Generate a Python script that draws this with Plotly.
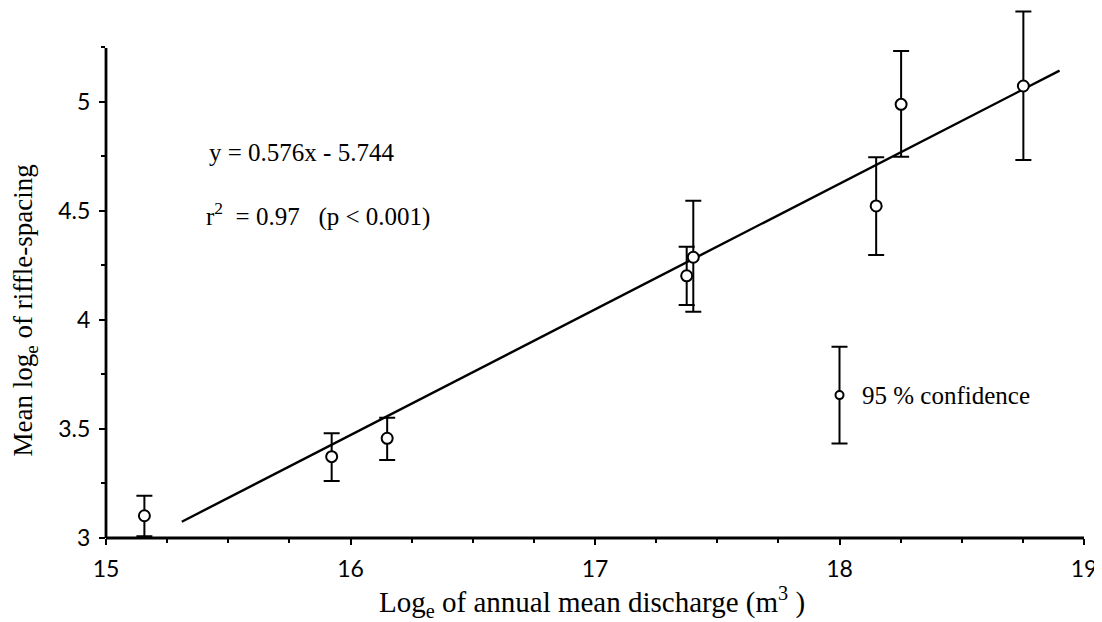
import plotly.graph_objects as go

# ---- data ----
x_vals = [15.157, 15.923, 16.150, 17.375, 17.402, 18.150, 18.252, 18.752]
y_vals = [3.102, 3.373, 3.457, 4.202, 4.287, 4.522, 4.988, 5.072]
err_plus = [0.092, 0.107, 0.094, 0.133, 0.259, 0.223, 0.244, 0.341]
err_minus = [0.094, 0.112, 0.099, 0.134, 0.250, 0.225, 0.240, 0.339]

slope = 0.576
intercept = -5.744
fit_x = [15.31, 18.90]
fit_y = [slope * v + intercept for v in fit_x]

legend_x = [18.0]
legend_y = [3.655]
legend_err = [0.222]

x_range = [15, 19]
y_range = [3, 5.4295]
y_axis_top = 5.246

serif = "Liberation Serif"
tickfont = dict(family="Lato", size=23, color="black")

fig = go.Figure()

fig.add_trace(go.Scatter(
    x=fit_x, y=fit_y, mode="lines",
    line=dict(color="black", width=2.4),
    showlegend=False, hoverinfo="skip",
))

fig.add_trace(go.Scatter(
    x=x_vals, y=y_vals, mode="markers",
    marker=dict(symbol="circle", size=11, color="white",
                line=dict(color="black", width=2)),
    error_y=dict(type="data", array=err_plus, arrayminus=err_minus,
                 color="black", thickness=2, width=8),
    cliponaxis=False, showlegend=False,
))

fig.add_trace(go.Scatter(
    x=legend_x, y=legend_y, mode="markers",
    marker=dict(symbol="circle", size=8, color="white",
                line=dict(color="black", width=2)),
    error_y=dict(type="data", array=legend_err, color="black",
                 thickness=2, width=8),
    cliponaxis=False, showlegend=False,
))

axis_common = dict(
    showgrid=False, zeroline=False, showline=False,
    ticks="outside", ticklen=6, tickwidth=1.5, tickcolor="black",
    tickfont=tickfont, ticklabelstandoff=4,
)
minor_common = dict(ticks="outside", ticklen=4, tickwidth=1.5,
                    tickcolor="black", showgrid=False)

fig.update_xaxes(range=x_range, tick0=15, dtick=1,
                 minor=dict(dtick=0.25, **minor_common), **axis_common)
fig.update_yaxes(range=y_range, tick0=3, dtick=0.5,
                 minor=dict(dtick=0.25, **minor_common), **axis_common)

y_top_frac = (y_axis_top - y_range[0]) / (y_range[1] - y_range[0])
fig.add_shape(type="line", xref="paper", yref="paper", x0=0, x1=1, y0=0, y1=0,
              line=dict(color="black", width=2.8))
fig.add_shape(type="line", xref="paper", yref="paper", x0=0, x1=0, y0=0, y1=y_top_frac,
              line=dict(color="black", width=2.8))

ann_font = dict(family=serif, size=25, color="black")
fig.add_annotation(x=15.415, y=4.765, xref="x", yref="y", xanchor="left", yanchor="middle",
                   text="y = 0.576x - 5.744", showarrow=False, font=ann_font)
fig.add_annotation(x=15.40, y=4.485, xref="x", yref="y", xanchor="left", yanchor="middle",
                   text="r<sup>2</sup>&nbsp; = 0.97 &nbsp; (p &lt; 0.001)", showarrow=False, font=ann_font)
fig.add_annotation(x=18.085, y=3.655, xref="x", yref="y", xanchor="left", yanchor="middle",
                   text="95 % confidence", showarrow=False, font=ann_font)

fig.add_annotation(x=0.277, y=-0.1208, xref="paper", yref="paper", xanchor="left", yanchor="middle",
                   text="Log<sub>e</sub> of annual mean discharge (m<sup>3</sup> )", showarrow=False,
                   font=dict(family=serif, size=29, color="black"))
fig.add_annotation(x=-0.0825, y=0.430, xref="paper", yref="paper", xanchor="center", yanchor="middle",
                   text="Mean log<sub>e</sub> of riffle-spacing", showarrow=False, textangle=-90,
                   font=dict(family=serif, size=27, color="black"))

# page body adds an 8px offset, so the figure is 8px smaller than the window
fig.update_layout(
    width=1094, height=614,
    margin=dict(l=98, r=18, t=0, b=84),
    plot_bgcolor="white", paper_bgcolor="white",
    showlegend=False,
)

fig.write_html("out.html")
